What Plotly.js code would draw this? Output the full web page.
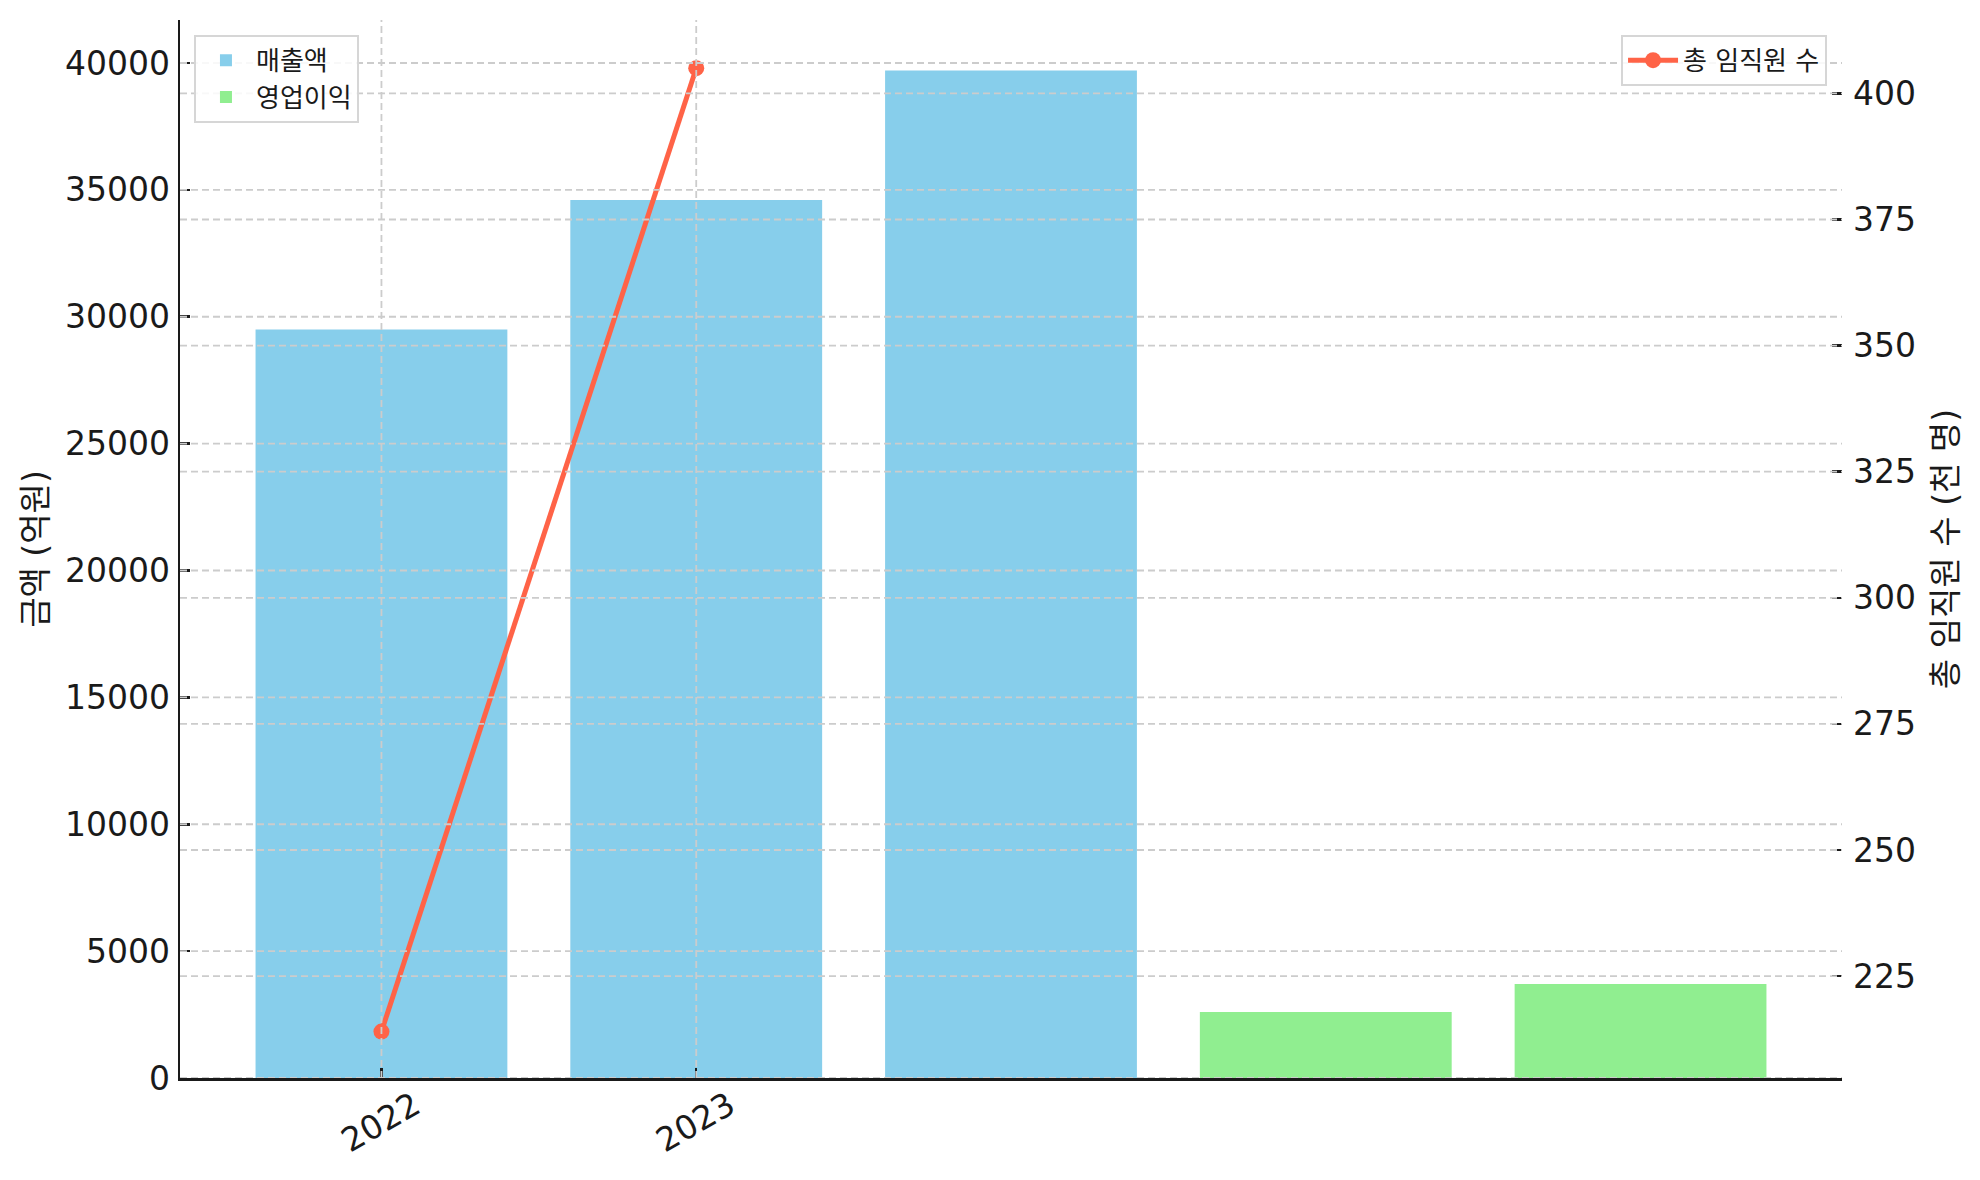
<!DOCTYPE html>
<html>
<head>
<meta charset="utf-8">
<script src="https://cdn.plot.ly/plotly-3.0.1.min.js"></script>
<style>html,body{margin:0;padding:0;background:#fff;}#chart{width:1980px;height:1180px;}</style>
</head>
<body>
<div id="chart"></div>
<script>
// ---- data ----
const salesPos = [0, 1, 2];
const salesValues = [29500, 34600, 39700];
const profitPos = [3, 4];
const profitValues = [2600, 3700];
const staffPos = [0, 1];
const staffValues = [214, 405];
const xTickVals = [0, 1];
const xTickText = ['2022', '2023'];
const leftTicks = [0, 5000, 10000, 15000, 20000, 25000, 30000, 35000, 40000];
const rightTicks = [225, 250, 275, 300, 325, 350, 375, 400];
const salesName = '매출액';
const profitName = '영업이익';
const staffName = '총 임직원 수';
const leftTitle = '금액 (억원)';
const rightTitle = '총 임직원 수 (천 명)';

const FONT = 'DejaVu Sans, Noto Sans CJK KR, sans-serif';
const TXT = '#1a1a1a';
const GRID = '#cccccc';
const FS = 33;

const traces = [
  {type: 'bar', x: salesPos, y: salesValues, name: salesName, width: 0.8,
   marker: {color: '#87CEEB', line: {width: 0}}, legend: 'legend', hoverinfo: 'skip'},
  {type: 'bar', x: profitPos, y: profitValues, name: profitName, width: 0.8,
   marker: {color: '#90EE90', line: {width: 0}}, legend: 'legend', hoverinfo: 'skip'},
  {type: 'scatter', mode: 'lines+markers', x: staffPos, y: staffValues, name: staffName,
   yaxis: 'y2', line: {color: '#FF6347', width: 5}, marker: {color: '#FF6347', size: 16},
   legend: 'legend2', hoverinfo: 'skip'}
];

const shapes = [];
leftTicks.forEach(v => shapes.push({type: 'line', layer: 'above', xref: 'paper', x0: 0, x1: 1, yref: 'y', y0: v, y1: v,
  line: {color: GRID, width: 1.8, dash: '7px,4px'}}));
rightTicks.forEach(v => shapes.push({type: 'line', layer: 'above', xref: 'paper', x0: 0, x1: 1, yref: 'y2', y0: v, y1: v,
  line: {color: GRID, width: 1.8, dash: '7px,4px'}}));
xTickVals.forEach(v => shapes.push({type: 'line', layer: 'above', xref: 'x', x0: v, x1: v, yref: 'paper', y0: 0, y1: 1,
  line: {color: GRID, width: 1.8, dash: '7px,4px'}}));

const layout = {
  width: 1980, height: 1180,
  margin: {l: 180, r: 138, t: 20, b: 102},
  paper_bgcolor: '#ffffff', plot_bgcolor: '#ffffff',
  font: {family: FONT, size: FS, color: TXT},
  barmode: 'overlay',
  showlegend: true,
  xaxis: {
    range: [-0.64, 4.64], tickvals: xTickVals, ticktext: xTickText, tickangle: -30,
    ticks: 'inside', ticklen: 10, tickwidth: 2.5, tickcolor: TXT,
    showline: true, linecolor: TXT, linewidth: 2.5, showgrid: false, zeroline: false,
    ticklabelshift: 33, ticklabelstandoff: -7,
    tickfont: {family: FONT, size: FS, color: TXT}
  },
  yaxis: {
    range: [0, 41694], tickvals: leftTicks, tickformat: 'd', ticks: 'inside', ticklen: 10, tickwidth: 2.5, tickcolor: TXT,
    showline: true, linecolor: TXT, linewidth: 2.5, showgrid: false, zeroline: false,
    ticklabelstandoff: 1,
    tickfont: {family: FONT, size: FS, color: TXT},
    title: {text: leftTitle, font: {family: FONT, size: FS, color: TXT}, standoff: 8}
  },
  yaxis2: {
    overlaying: 'y', side: 'right', range: [204.8, 414.55], tickvals: rightTicks, tickformat: 'd',
    ticks: 'inside', ticklen: 10, tickwidth: 2.5, tickcolor: TXT,
    showline: false, showgrid: false, zeroline: false, ticklabelstandoff: 10,
    tickfont: {family: FONT, size: FS, color: TXT},
    title: {text: rightTitle, font: {family: FONT, size: FS, color: TXT}, standoff: 18}
  },
  legend: {
    x: 0.0084, y: 0.986, xanchor: 'left', yanchor: 'top',
    bgcolor: 'rgba(255,255,255,0.85)', bordercolor: '#d6d6d6', borderwidth: 2,
    font: {family: FONT, size: 26, color: TXT}, traceorder: 'normal', itemwidth: 50
  },
  legend2: {
    x: 0.991, y: 0.986, xanchor: 'right', yanchor: 'top',
    bgcolor: 'rgba(255,255,255,0.85)', bordercolor: '#d6d6d6', borderwidth: 2,
    font: {family: FONT, size: 26, color: TXT}, itemwidth: 50
  },
  shapes: shapes
};

Plotly.newPlot('chart', traces, layout, {staticPlot: true, displayModeBar: false});
</script>
</body>
</html>
